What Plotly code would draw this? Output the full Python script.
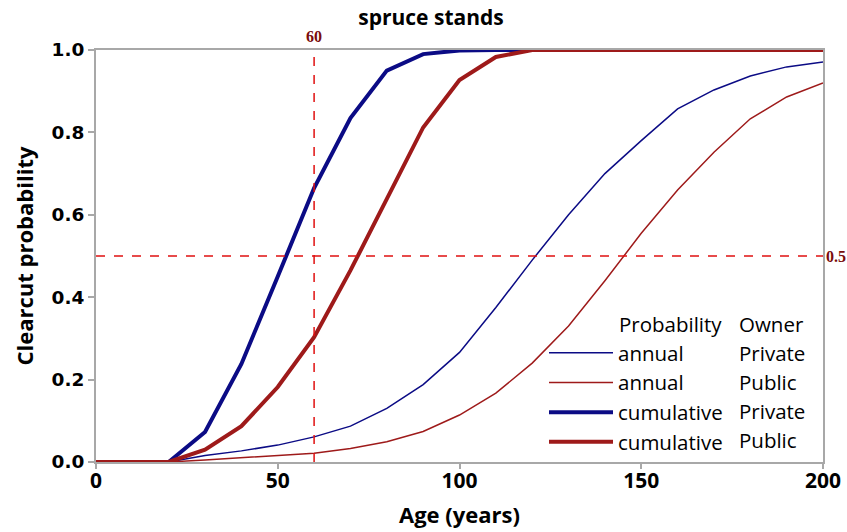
import plotly.graph_objects as go

# ---- data ----
ages = [0, 10, 20, 30, 40, 50, 60, 70, 80, 90, 100, 110, 120, 130, 140, 150, 160, 170, 180, 190, 200]
annual_private = [0, 0, 0, 0.016, 0.027, 0.041, 0.061, 0.087, 0.13, 0.188, 0.266, 0.375, 0.49, 0.60, 0.70, 0.78, 0.857, 0.903, 0.937, 0.959, 0.971]
annual_public = [0, 0, 0, 0.005, 0.010, 0.015, 0.021, 0.033, 0.049, 0.074, 0.114, 0.167, 0.24, 0.33, 0.44, 0.555, 0.66, 0.752, 0.833, 0.886, 0.92]
cumulative_private = [0, 0, 0, 0.073, 0.238, 0.45, 0.665, 0.835, 0.95, 0.99, 0.999, 1, 1, 1, 1, 1, 1, 1, 1, 1, 1]
cumulative_public = [0, 0, 0, 0.03, 0.087, 0.182, 0.303, 0.465, 0.64, 0.812, 0.927, 0.983, 1, 1, 1, 1, 1, 1, 1, 1, 1]

series_prob = ["annual", "annual", "cumulative", "cumulative"]
series_owner = ["Private", "Public", "Private", "Public"]
series_values = [annual_private, annual_public, cumulative_private, cumulative_public]

ref_age = 60
ref_prob = 0.5
x_ticks = [0, 50, 100, 150, 200]
y_ticks = [0.0, 0.2, 0.4, 0.6, 0.8, 1.0]

NAVY = "#0b0b85"
DARKRED = "#9e1a1a"
colors = {"Private": NAVY, "Public": DARKRED}
widths = {"annual": 1.5, "cumulative": 4}

W, H = 847, 532
L, R, T, B = 96, 24, 50, 70
PW = W - L - R          # plot width in px
PH = H - T - B          # plot height in px


def px_x(page_x):
    return (page_x - L) / PW


def px_y(page_y):
    return (H - B - page_y) / PH


fig = go.Figure()
for i, (p, o, vals) in enumerate(zip(series_prob, series_owner, series_values)):
    fig.add_trace(go.Scatter(
        x=ages, y=vals, mode="lines", name=p, legendgroup=f"g{i}",
        line=dict(color=colors[o], width=widths[p]),
    ))

# reference lines
fig.add_vline(x=ref_age, line=dict(color="#e01010", width=1.5, dash="dash"))
fig.add_hline(y=ref_prob, line=dict(color="#e01010", width=1.5, dash="dash"))
REF_FONT = dict(family="Liberation Serif, serif", size=16, color="#7a0c0c")
fig.add_annotation(x=ref_age, y=1, xref="x", yref="paper", yanchor="bottom",
                   text=f"<b>{ref_age}</b>", showarrow=False, yshift=3, font=REF_FONT)
fig.add_annotation(x=1, y=ref_prob, xref="paper", yref="y", xanchor="left",
                   text=f"<b>{ref_prob}</b>", showarrow=False, xshift=1, font=REF_FONT)

# legend column headers and owner column
LEG_FONT = dict(family="Open Sans, sans-serif", size=20.5, color="black")
fig.add_annotation(x=px_x(617), y=px_y(324), xref="paper", yref="paper", text="Probability",
                   showarrow=False, xanchor="left", yanchor="middle", font=LEG_FONT)
fig.add_annotation(x=px_x(737), y=px_y(324), xref="paper", yref="paper", text="Owner",
                   showarrow=False, xanchor="left", yanchor="middle", font=LEG_FONT)
for k, o in enumerate(series_owner):
    fig.add_annotation(x=px_x(737), y=px_y(353 + k * 29), xref="paper", yref="paper", text=o,
                       showarrow=False, xanchor="left", yanchor="middle", font=LEG_FONT)

fig.update_layout(
    width=W, height=H,
    margin=dict(l=L, r=R, t=T, b=B, autoexpand=False),
    paper_bgcolor="white", plot_bgcolor="white",
    title=dict(text="<b>spruce stands</b>", x=431 / W, xanchor="center",
               y=1 - 18 / H, yanchor="middle",
               font=dict(family="Open Sans, sans-serif", size=21, color="black")),
    xaxis=dict(range=[0, 200], tickvals=x_ticks, ticktext=[f"<b>{v}</b>" for v in x_ticks],
               showgrid=False, zeroline=False, showline=True, linecolor="#a8a8a8", linewidth=2,
               mirror=True, ticks="outside", ticklen=5, tickcolor="#a8a8a8", tickwidth=1.5,
               ticklabelstandoff=-6,
               tickfont=dict(family="Open Sans, sans-serif", size=21, color="black"),
               title=dict(text="<b>Age (years)</b>", standoff=14,
                          font=dict(family="Open Sans, sans-serif", size=22, color="black"))),
    yaxis=dict(range=[0, 1], tickvals=y_ticks, ticktext=[f"<b>{v:.1f}</b>" for v in y_ticks],
               showgrid=False, zeroline=False, showline=True, linecolor="#a8a8a8", linewidth=2,
               mirror=True, ticks="outside", ticklen=6, tickcolor="#a8a8a8", tickwidth=1.5,
               tickfont=dict(family="DejaVu Sans, sans-serif", size=18.5, color="black"),
               title=dict(text="<b>Clearcut probability</b>", standoff=12,
                          font=dict(family="Open Sans, sans-serif", size=22, color="black"))),
    showlegend=True,
    legend=dict(x=px_x(617 - 73), y=px_y(333), xanchor="left", yanchor="top",
                bgcolor="rgba(0,0,0,0)", borderwidth=0, itemwidth=64,
                traceorder="grouped", tracegroupgap=0, font=LEG_FONT),
)

# the page body has a default 8px margin; remove it so the figure fills the window exactly
fig.write_html("out.html", config={"displayModeBar": False},
               post_script="document.body.style.margin='0px';")
